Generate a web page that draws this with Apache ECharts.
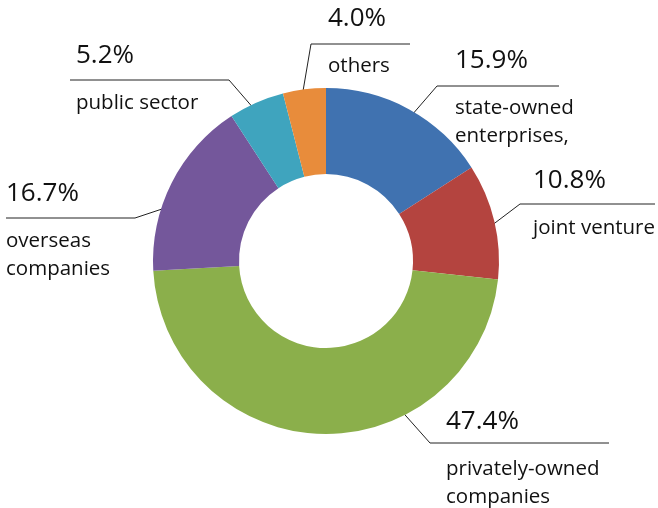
<!DOCTYPE html>
<html>
<head>
<meta charset="utf-8">
<script src="https://cdn.jsdelivr.net/npm/echarts@6/dist/echarts.min.js"></script>
<style>html,body{margin:0;padding:0;background:#fff}#c{width:658px;height:508px}</style>
</head>
<body>
<div id="c"></div>
<script>
const names = ['state-owned\nenterprises,', 'joint venture', 'privately-owned\ncompanies', 'overseas\ncompanies', 'public sector', 'others'];
const values = [15.9, 10.8, 47.4, 16.7, 5.2, 4.0];
const colors = ['#4072B0', '#B4443F', '#8BAF4B', '#74579B', '#3FA4BE', '#E88C3B'];

// label block top-left and leader line points (layout only)
const labelLayoutCfg = [
  {x: 455, y: 28, line: [[405,123],[437,86],[559,86]]},
  {x: 533, y: 148, line: [[483,232],[520,204],[655,204]]},
  {x: 446, y: 389, line: [[390,398],[430,443],[609,443]]},
  {x: 6, y: 161, line: [[180,203],[135,218],[6,218]]},
  {x: 76, y: 23, line: [[255,110],[229,80],[70,80]]},
  {x: 328, y: -14, line: [[302,97],[311,44],[410,44]]}
];

const chart = echarts.init(document.getElementById('c'), null, {renderer: 'canvas'});
chart.setOption({
  animation: false,
  backgroundColor: '#ffffff',
  series: [{
    type: 'pie',
    center: [326, 261],
    radius: [87, 173],
    startAngle: 90,
    clockwise: true,
    avoidLabelOverlap: false,
    data: names.map((n, i) => ({name: n, value: values[i], itemStyle: {color: colors[i]}})),
    itemStyle: {borderWidth: 0},
    label: {
      show: true,
      position: 'outside',
      align: 'left',
      verticalAlign: 'top',
      formatter: p => '{p|' + p.value.toFixed(1) + '%}\n{n|' + p.name.split('\n').join('}\n{n|') + '}',
      rich: {
        p: {fontFamily: 'Open Sans', fontSize: 26, lineHeight: 66, color: '#111'},
        n: {fontFamily: 'Open Sans', fontSize: 20.5, lineHeight: 28, color: '#111'}
      }
    },
    labelLine: {show: true, lineStyle: {color: '#222', width: 1}},
    labelLayout: function (params) {
      const c = labelLayoutCfg[params.dataIndex];
      return {x: c.x, y: c.y, align: 'left', verticalAlign: 'top', labelLinePoints: c.line};
    },
    emphasis: {disabled: true}
  }]
});
</script>
</body>
</html>
